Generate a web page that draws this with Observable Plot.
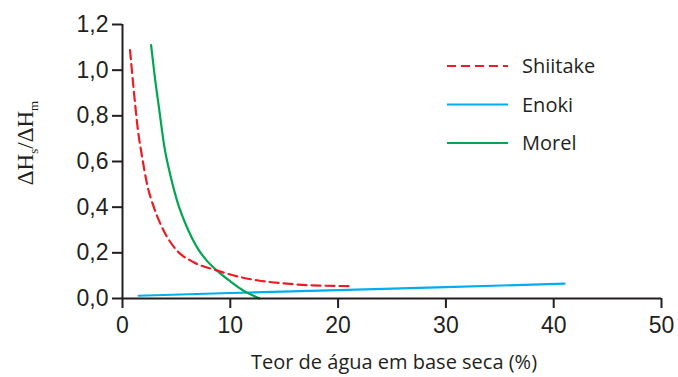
<!DOCTYPE html>
<html>
<head>
<meta charset="utf-8">
<script src="https://cdn.jsdelivr.net/npm/d3@7"></script>
<script src="https://cdn.jsdelivr.net/npm/@observablehq/plot@0.6"></script>
<style>
  html, body { margin: 0; padding: 0; background: #fff; }
  #chart svg { display: block; }
</style>
</head>
<body>
<div id="chart"></div>
<script>
// Data
const shiitakeX = [0.7, 1.05, 1.4, 1.82, 2.27, 2.9, 3.81, 5.05, 6.6, 8.74, 10.9, 12.6, 15.0, 17.4, 21.3];
const shiitakeY = [1.088, 0.91, 0.75, 0.62, 0.503, 0.401, 0.298, 0.21, 0.159, 0.123, 0.094, 0.079, 0.066, 0.058, 0.054];

const morelX = [2.65, 3.0, 3.4, 3.9, 4.44, 5.05, 5.97, 6.9, 7.8, 8.74, 10.0, 11.2, 12.7];
const morelY = [1.11, 0.97, 0.83, 0.66, 0.54, 0.43, 0.313, 0.225, 0.167, 0.123, 0.075, 0.035, 0.0];

const enokiX = [1.5, 10, 20, 30, 41];
const enokiY = [0.012, 0.024, 0.037, 0.05, 0.065];

const xTicks = [0, 10, 20, 30, 40, 50];
const yTicks = [0, 0.2, 0.4, 0.6, 0.8, 1.0, 1.2];

const seriesNames = ["Shiitake", "Enoki", "Morel"];
const seriesColors = ["#ed1c24", "#00aeef", "#00a651"];
const seriesDash = ["9,5", null, null];

const toRows = (xs, ys) => xs.map((x, i) => ({x, y: ys[i]}));
const shiitake = toRows(shiitakeX, shiitakeY);
const morel = toRows(morelX, morelY);
const enoki = toRows(enokiX, enokiY);

const axisColor = "#231f20";
const fmt = d => d.toFixed(1).replace(".", ",");

const plot = Plot.plot({
  width: 678,
  height: 377,
  marginLeft: 122,
  marginRight: 17,
  marginTop: 24,
  marginBottom: 79,
  style: {fontFamily: "'Liberation Sans', Arial, sans-serif", fontSize: "23px", background: "#fff"},
  x: {domain: [0, 50]},
  y: {domain: [0, 1.2]},
  marks: [
    Plot.line(enoki, {x: "x", y: "y", stroke: seriesColors[1], strokeWidth: 2.2}),
    Plot.line(morel, {x: "x", y: "y", stroke: seriesColors[2], strokeWidth: 2.2, curve: "monotone-x"}),
    Plot.line(shiitake, {x: "x", y: "y", stroke: seriesColors[0], strokeWidth: 2.2, strokeDasharray: seriesDash[0], curve: "monotone-x"}),
    Plot.ruleY([0], {x1: 0, x2: 50, stroke: axisColor, strokeWidth: 2}),
    Plot.ruleX([0], {y1: 0, y2: 1.2, stroke: axisColor, strokeWidth: 2}),
    Plot.axisX(xTicks, {tickSize: 10, tickPadding: 8, fontSize: 23, stroke: axisColor, strokeWidth: 2, fill: axisColor, label: null}),
    Plot.axisY(yTicks, {tickSize: 10, tickPadding: 4, fontSize: 23, stroke: axisColor, strokeWidth: 2, fill: axisColor, tickFormat: fmt, label: null})
  ]
});

const svg = d3.select(plot);

// X axis title
svg.append("text")
  .attr("x", 394).attr("y", 369)
  .attr("text-anchor", "middle")
  .attr("font-family", "'Open Sans', sans-serif")
  .attr("font-size", 20)
  .attr("fill", axisColor)
  .text("Teor de água em base seca (%)");

// Y axis title with subscripts
const yt = svg.append("text")
  .attr("transform", "translate(33,143) rotate(-90)")
  .attr("text-anchor", "middle")
  .attr("font-family", "'Liberation Serif', 'Times New Roman', serif")
  .attr("font-size", 23)
  .attr("fill", axisColor);
yt.append("tspan").text("ΔH");
yt.append("tspan").attr("font-size", 13).attr("dy", 5).text("s");
yt.append("tspan").attr("dy", -5).text("/ΔH");
yt.append("tspan").attr("font-size", 13).attr("dy", 5).text("m");

// Legend
const lg = svg.append("g");
seriesNames.forEach((name, i) => {
  const y = 66 + i * 38.5;
  lg.append("line")
    .attr("x1", 447).attr("x2", 508).attr("y1", y).attr("y2", y)
    .attr("stroke", seriesColors[i]).attr("stroke-width", 2.2)
    .attr("stroke-dasharray", seriesDash[i] || null);
  lg.append("text")
    .attr("x", 522).attr("y", y).attr("dy", "0.36em")
    .attr("text-anchor", "start")
    .attr("font-family", "'Open Sans', sans-serif")
    .attr("font-size", 20)
    .attr("fill", axisColor)
    .text(name);
});

document.getElementById("chart").append(plot);
</script>
</body>
</html>
